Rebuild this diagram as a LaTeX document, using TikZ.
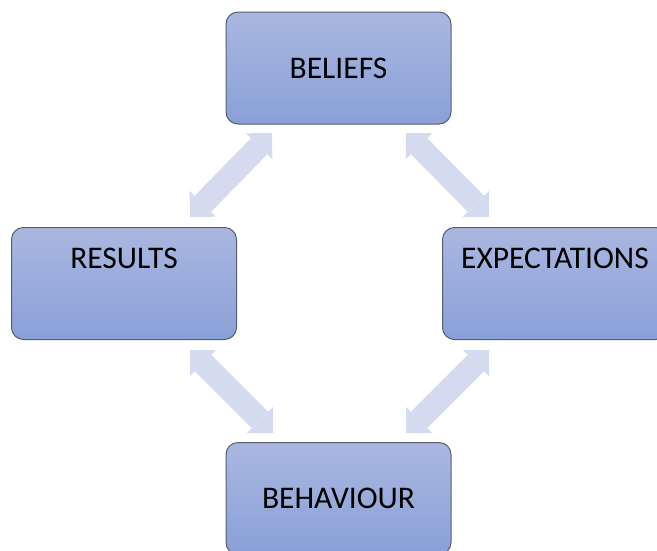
\documentclass[tikz,border=0pt]{standalone}
\usepackage{fontspec}
\setmainfont{Carlito}
\usetikzlibrary{arrows.meta}
\definecolor{boxtop}{RGB}{170,183,224}
\definecolor{boxbot}{RGB}{137,160,216}
\definecolor{boxline}{RGB}{88,94,108}
\definecolor{arrowfill}{RGB}{213,219,239}
\tikzset{
  cyclebox/.style={draw=boxline, line width=1pt, rounded corners=12pt,
    top color=boxtop, bottom color=boxbot,
    minimum width=225pt, minimum height=112pt, inner sep=0pt,
    font=\fontsize{31.5}{36}\selectfont, text=black},
  topalign/.style={text height=20pt, text depth=51pt},
  cyclearrow/.style={draw=arrowfill, line width=23pt,
    {Triangle[width=37pt,length=18.5pt,line width=0pt]}-{Triangle[width=37pt,length=18.5pt,line width=0pt]}}
}
\begin{document}
\begin{tikzpicture}[x=1pt,y=-1pt]
\useasboundingbox (0,0) rectangle (657,550);
\clip (0,0) rectangle (657,550);
\node[cyclebox] (beliefs) at (338.5,68) {BELIEFS};
\node[cyclebox,topalign] (results) at (124,283.5) {RESULTS};
\node[cyclebox,topalign] (expect) at (555,283.5) {EXPECTATIONS};
\node[cyclebox] (behav) at (338.5,498.5) {BEHAVIOUR};
% arrow end points
\coordinate (rb) at (190,217);
\coordinate (br) at (272,133);
\coordinate (be) at (406,133);
\coordinate (eb) at (489,217);
\coordinate (rh) at (190,350);
\coordinate (hr) at (273,433);
\coordinate (eh) at (489,350);
\coordinate (he) at (406,433);
\draw[cyclearrow] (rb) -- (br);
\draw[cyclearrow] (be) -- (eb);
\draw[cyclearrow] (rh) -- (hr);
\draw[cyclearrow] (eh) -- (he);
\end{tikzpicture}
\end{document}
